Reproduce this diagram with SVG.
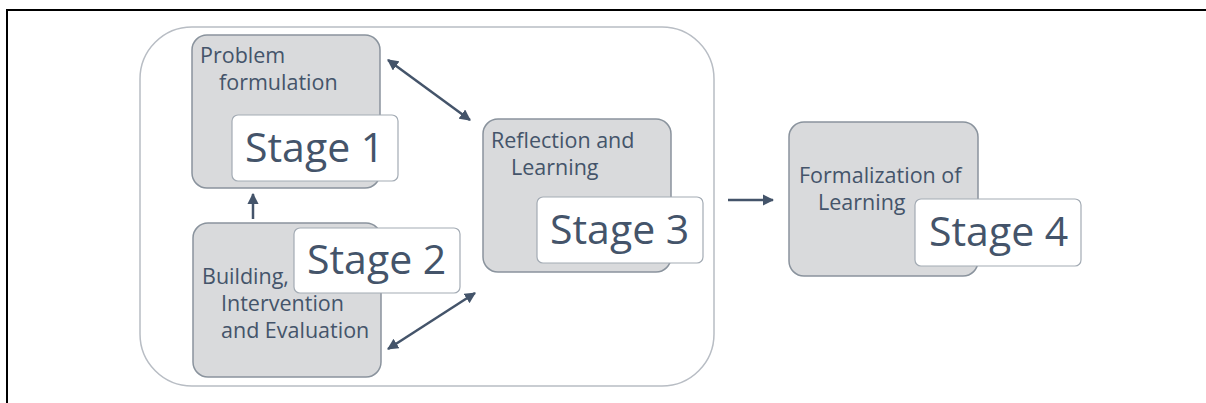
<svg xmlns="http://www.w3.org/2000/svg" width="1206" height="403" viewBox="0 0 1206 403">
<style>
.frame{stroke:#000;stroke-width:2;fill:none}
.cont{fill:#fff;stroke:#b8bdc4;stroke-width:1.5}
.box{fill:#d9dadc;stroke:#8a939d;stroke-width:1.5}
.tag{fill:#fff;stroke:#a3abb4;stroke-width:1.2}
.lbl{font-family:"Open Sans","Noto Sans",sans-serif;font-size:21.5px;fill:#44546a}
.stg{font-family:"Open Sans","Noto Sans",sans-serif;font-size:41px;fill:#44546a}
.con{stroke:#44546a;stroke-width:2.5;fill:none}
</style>
<defs>
<marker id="ah" viewBox="0 0 10 10" refX="9" refY="5" markerWidth="4.5" markerHeight="4.5" orient="auto-start-reverse" markerUnits="strokeWidth">
<path d="M0,0 L10,5 L0,10 z" fill="#44546a"/>
</marker>
</defs>
<rect width="1206" height="403" fill="#fff"/>
<path class="frame" d="M7,403 V10 H1206"/>
<rect id="container" class="cont" x="140" y="27" width="574" height="359" rx="52"/>
<g id="stage1">
<rect class="box" x="192" y="35" width="188" height="153" rx="15"/>
<text class="lbl" x="200" y="63">Problem</text>
<text class="lbl" x="219" y="90">formulation</text>
<rect class="tag" x="232" y="115" width="166" height="66" rx="6"/>
<text class="stg" x="245" y="162">Stage 1</text>
</g>
<g id="stage2">
<rect class="box" x="193" y="223" width="188" height="154" rx="15"/>
<text class="lbl" x="202" y="284">Building,</text>
<text class="lbl" x="221" y="311">Intervention</text>
<text class="lbl" x="221" y="338">and Evaluation</text>
<rect class="tag" x="294" y="228" width="166" height="65" rx="6"/>
<text class="stg" x="307" y="274">Stage 2</text>
</g>
<g id="stage3">
<rect class="box" x="483" y="119" width="188" height="153" rx="15"/>
<text class="lbl" x="491" y="148">Reflection and</text>
<text class="lbl" x="511" y="175">Learning</text>
<rect class="tag" x="537" y="197" width="166" height="66" rx="6"/>
<text class="stg" x="550" y="244">Stage 3</text>
</g>
<g id="stage4">
<rect class="box" x="789" y="122" width="189" height="154" rx="15"/>
<text class="lbl" x="799" y="183">Formalization of</text>
<text class="lbl" x="818" y="210">Learning</text>
<rect class="tag" x="915" y="199" width="166" height="67" rx="6"/>
<text class="stg" x="929" y="246">Stage 4</text>
</g>
<g id="connectors">
<line class="con" x1="253" y1="219" x2="253" y2="194" marker-end="url(#ah)"/>
<line class="con" x1="388" y1="60" x2="470" y2="120" marker-start="url(#ah)" marker-end="url(#ah)"/>
<line class="con" x1="388" y1="349" x2="475" y2="293" marker-start="url(#ah)" marker-end="url(#ah)"/>
<line class="con" x1="728" y1="200" x2="773" y2="200" marker-end="url(#ah)"/>
</g>
</svg>
